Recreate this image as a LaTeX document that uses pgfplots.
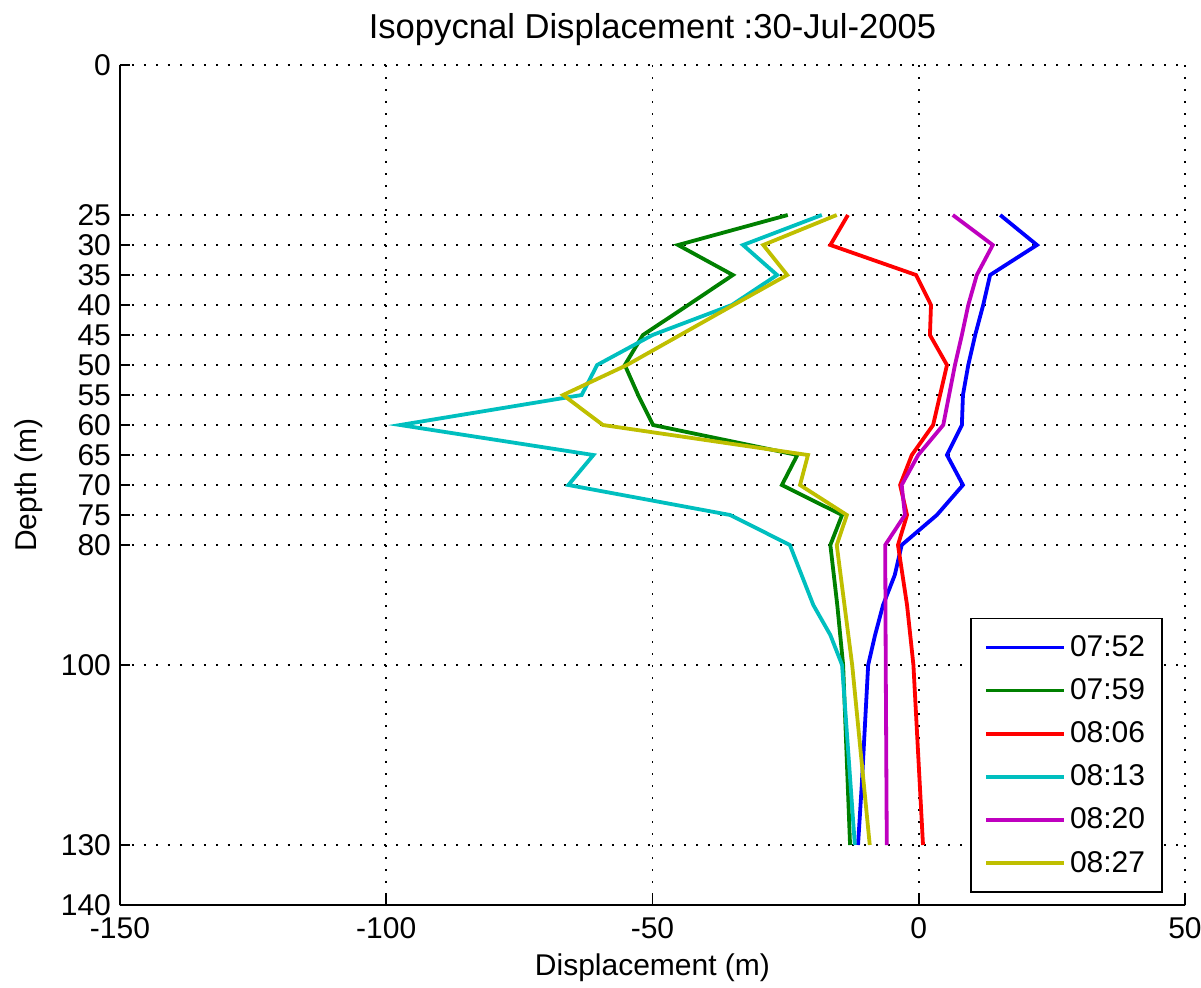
\documentclass[border=0pt]{standalone}
\usepackage{pgfplots}
\pgfplotsset{compat=1.18}
\usepackage{fontspec}
\setmainfont{Liberation Sans}
\definecolor{mblue}{RGB}{0,0,255}
\definecolor{mgreen}{RGB}{0,128,0}
\definecolor{mred}{RGB}{255,0,0}
\definecolor{mcyan}{RGB}{0,191,191}
\definecolor{mmag}{RGB}{191,0,191}
\definecolor{myel}{RGB}{191,191,0}
\begin{document}
\begin{tikzpicture}
\path[use as bounding box] (-60pt,-41pt) rectangle (540.5pt,452.5pt);
\begin{axis}[
  at={(0,0)}, anchor=south west,
  scale only axis, width=532.5pt, height=420pt,
  xmin=-150, xmax=50, ymin=0, ymax=140,
  y dir=reverse,
  axis x line*=bottom, axis y line*=left,
  axis line style={line width=0.8pt, black},
  xtick={-150,-100,-50,0,50},
  ytick={0,25,30,35,40,45,50,55,60,65,70,75,80,100,130,140},
  tick align=inside, major tick length=5pt,
  tick style={line width=0.8pt, black},
  /pgf/number format/assume math mode=true,
  ticklabel style={font=\fontsize{15}{18}\selectfont},
  xticklabel style={yshift=-2.5pt},
  yticklabel style={xshift=-1pt},
  grid=major,
  grid style={black, line width=0.9pt, dash pattern=on 0.9pt off 5.1pt},
  title={Isopycnal Displacement :30-Jul-2005},
  title style={font=\fontsize{17.3}{20}\selectfont, at={(axis description cs:0.5,1)}, anchor=base, yshift=7.5pt},
  xlabel={Displacement (m)},
  xlabel style={font=\fontsize{15}{18}\selectfont, at={(axis description cs:0.5,0)}, anchor=base, yshift=-35pt},
  ylabel={Depth (m)},
  ylabel style={font=\fontsize{15}{18}\selectfont, at={(axis description cs:0,0.5)}, anchor=base, yshift=41.5pt},
  legend cell align=left,
  legend image code/.code={\draw[#1] (0pt,0pt) -- (39pt,0pt);},
  legend style={at={(axis description cs:1,0)}, anchor=south east, xshift=-11pt, yshift=6pt,
    draw=black, line width=0.9pt, font=\fontsize{15}{18}\selectfont,
    row sep=5.6pt, inner xsep=6.5pt, inner ysep=6.5pt},
  every axis plot/.append style={line width=1.9pt},
]
\addplot[mblue] coordinates {(15.3,25)(22.2,30)(13.4,35)(12.1,40)(10.6,45)(9.3,50)(8.3,55)(8.1,60)(5.3,65)(8.3,70)(3.4,75)(-3.2,80)(-4.5,85)(-6.7,90)(-8.2,95)(-9.5,100)(-10.1,110)(-10.7,120)(-11.4,130)};
\addlegendentry{07:52}
\addplot[mgreen] coordinates {(-24.6,25)(-45.2,30)(-34.9,35)(-43.3,40)(-51.8,45)(-55.2,50)(-52.7,55)(-49.9,60)(-22.8,65)(-25.7,70)(-14.4,75)(-16.6,80)(-15.3,90)(-14.2,100)(-12.9,130)};
\addlegendentry{07:59}
\addplot[mred] coordinates {(-13.3,25)(-16.6,30)(-0.5,35)(2.3,40)(2.1,45)(5.3,50)(4.0,55)(2.7,60)(-1.3,65)(-3.5,70)(-2.2,75)(-3.9,80)(-2.2,90)(-1.0,100)(0.8,130)};
\addlegendentry{08:06}
\addplot[mcyan] coordinates {(-18.2,25)(-33,30)(-26.6,35)(-35.1,40)(-50,45)(-60.4,50)(-63.3,55)(-97.4,60)(-61.1,65)(-65.8,70)(-35.4,75)(-24.2,80)(-22,85)(-19.8,90)(-16.6,95)(-14.4,100)(-13.2,115)(-12.0,130)};
\addlegendentry{08:13}
\addplot[mmag] coordinates {(6.4,25)(13.9,30)(10.9,35)(9.3,40)(8.1,45)(6.8,50)(5.7,55)(4.6,60)(-0.1,65)(-3.2,70)(-2.6,75)(-6.3,80)(-6.2,100)(-6.0,130)};
\addlegendentry{08:20}
\addplot[myel] coordinates {(-15.4,25)(-29.2,30)(-24.7,35)(-34.8,40)(-44.8,45)(-54.8,50)(-66.8,55)(-59.3,60)(-20.8,65)(-22.3,70)(-13.5,75)(-15.4,80)(-12.5,100)(-9.2,130)};
\addlegendentry{08:27}
\end{axis}
\end{tikzpicture}
\end{document}
